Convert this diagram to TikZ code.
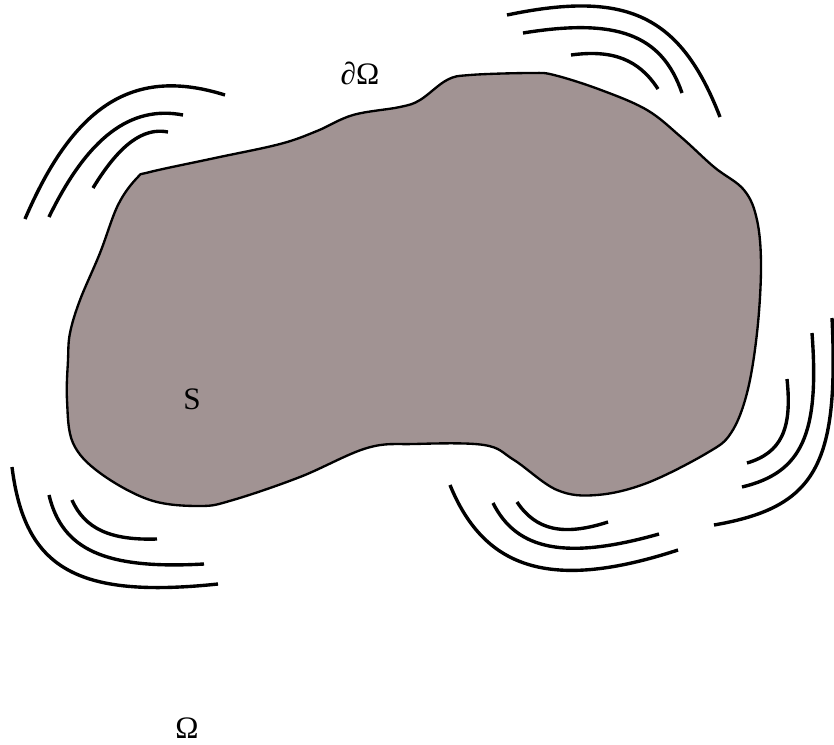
\documentclass[tikz,border=0pt]{standalone}
\usepackage{fontspec}
\setmainfont{Liberation Serif}
\definecolor{blobgray}{RGB}{161,147,147}
\begin{document}
\begin{tikzpicture}[x=0.0135cm, y=-0.0135cm,
    wave/.style={line width=1.3pt, line cap=butt},
    label/.style={font=\large, inner sep=0pt}]
    \useasboundingbox (0,0) rectangle (834,744);

    % Body S
    \filldraw[fill=blobgray, line width=0.9pt] plot[smooth cycle, tension=0.6] coordinates {
        (150,172) (215,158) (280,144) (317,131) (353,115) (400,107) (420,100)
        (447,80) (470,75) (531,73) (554,75) (601,90) (647,110) (681,137)
        (714,167) (744,190) (757,220) (761,267) (757,333) (747,393) (731,433)
        (707,453) (647,483) (597,495) (557,490) (514,460) (484,445) (414,444)
        (367,448) (300,477) (233,500) (200,506) (150,500) (100,473) (73,443)
        (67,400) (68,360) (70,333) (80,300) (100,253) (118,205) (137,178)};

    % Waves (top left)
    \draw[wave] (25,219) .. controls (74.4,103.7) and (134.4,66.5) .. (225,95);
    \draw[wave] (49,217) .. controls (87.6,137.6) and (130.5,104.9) .. (183,115);
    \draw[wave] (93,188) .. controls (119.1,145.0) and (143.1,127.0) .. (168,132);

    % Waves (top right)
    \draw[wave] (507,15) .. controls (627.3,-10.2) and (680.7,15.3) .. (720,117);
    \draw[wave] (523,33) .. controls (617.1,17.7) and (661.8,34.5) .. (682,93);
    \draw[wave] (571,55) .. controls (612.8,49.3) and (638.9,59.5) .. (658,89);

    % Waves (bottom left)
    \draw[wave] (12,467) .. controls (24.7,568.4) and (76.2,598.9) .. (218,584);
    \draw[wave] (49,495) .. controls (62.2,550.2) and (105.6,569.5) .. (204,564);
    \draw[wave] (72,500) .. controls (84.8,528.8) and (110.4,540.5) .. (157,539);

    % Waves (bottom right)
    \draw[wave] (450,485) .. controls (485.1,571.2) and (553.5,590.7) .. (678,550);
    \draw[wave] (493,503) .. controls (516.9,550.8) and (566.7,560.1) .. (659,534);
    \draw[wave] (517,502) .. controls (536,530.4) and (563.3,536.4) .. (608,522);

    % Waves (right)
    \draw[wave] (832,318) .. controls (839.1,466) and (815.4,507.4) .. (714,525);
    \draw[wave] (812,333) .. controls (819.6,434.1) and (802.1,472.7) .. (742,487);
    \draw[wave] (787,379) .. controls (792.4,429.3) and (781.2,452.8) .. (747,463);

    % Labels
    \node[label] (boundary) at (360,73) {∂Ω};
    \node[label] (body) at (192,399) {S};
    \node[label] (domain) at (187,728) {Ω};
\end{tikzpicture}
\end{document}
